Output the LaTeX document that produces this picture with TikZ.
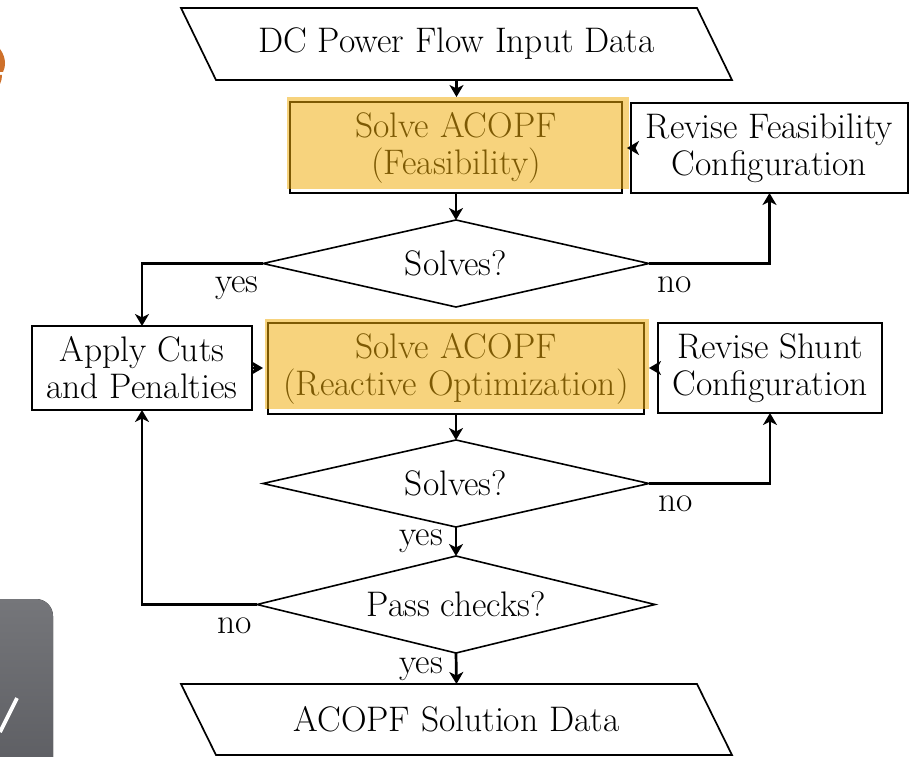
\documentclass[tikz,border=0pt]{standalone}
\usepackage{fontspec}
\usetikzlibrary{shapes.geometric,arrows.meta,calc}
\definecolor{hlc}{RGB}{240,172,7}
\definecolor{orangee}{RGB}{206,112,42}
\definecolor{grayT}{RGB}{117,118,122}
\definecolor{grayB}{RGB}{86,87,92}
\tikzset{
  base/.style={font=\fontsize{35.5}{37}\selectfont, align=center, inner sep=0pt, outer sep=0pt},
  procbox/.style={base, draw, line width=1.7pt, rectangle},
  hlbox/.style={rectangle, fill=hlc, fill opacity=0.52, draw=none, inner sep=0pt, outer sep=0pt},
  iobox/.style={base, rectangle, draw=none},
  iopath/.style={line width=1.7pt, line join=miter},
  decision/.style={base, draw, line width=1.6pt, shape=diamond, aspect=4.4},
  conn/.style={line width=2.7pt, -{Stealth[length=12pt,width=14pt,inset=3.5pt]}},
  lab/.style={font=\fontsize{35.5}{37}\selectfont, inner sep=0pt, outer sep=0pt}
}
\begin{document}
\begin{tikzpicture}[x=1pt,y=-1pt]
\useasboundingbox (0,0) rectangle (923,757);
\fill[white] (0,0) rectangle (923,757);

% background fragments at left edge
\fill[orangee] (0,49) .. controls (3,53) and (5,58) .. (5,63) .. controls (5,67) and (4,70) .. (3,72) -- (0,72) -- cycle;
\fill[orangee] (0,75) -- (2,75) .. controls (2,78) and (1.5,81) .. (0,84) -- cycle;
\fill[top color=grayT, bottom color=grayB, rounded corners=17pt] (-40,599) rectangle (53,820);
\coordinate (chkA) at (17,698);
\coordinate (chkB) at (0,732);
\draw[white, line width=3.8pt] (chkA) -- (chkB);

% input / output
\node[iobox, minimum width=551pt, minimum height=72pt] (input) at (456.5,44) {DC Power Flow Input Data};
\draw[iopath] (input.north west) -- ($(input.north east)+(-35,0)$) -- (input.south east) -- ($(input.south west)+(35,0)$) -- cycle;
\node[iobox, minimum width=551pt, minimum height=71pt] (output) at (456.5,719.5) {ACOPF Solution Data};
\draw[iopath] (output.north west) -- ($(output.north east)+(-35,0)$) -- (output.south east) -- ($(output.south west)+(35,0)$) -- cycle;

% process boxes
\node[procbox, minimum width=332pt, minimum height=91pt] (solve1) at (456,147.5) {Solve ACOPF\\(Feasibility)};
\node[procbox, minimum width=277pt, minimum height=90pt] (revfeas) at (769.5,148) {Revise Feasibility\\Configuration};
\node[procbox, minimum width=220pt, minimum height=84pt] (cuts) at (142,368) {Apply Cuts\\and Penalties};
\node[procbox, minimum width=376pt, minimum height=91pt] (solve2) at (456,368.5) {Solve ACOPF\\(Reactive Optimization)};
\node[procbox, minimum width=224pt, minimum height=90pt] (revshunt) at (770,368) {Revise Shunt\\Configuration};

% decisions
\node[decision, minimum width=386pt, minimum height=87pt] (d1) at (456,263.5) {Solves?};
\node[decision, minimum width=386pt, minimum height=87pt] (d2) at (456,483.5) {Solves?};
\node[decision, minimum width=398pt, minimum height=97pt] (d3) at (456,604.5) {Pass checks?};

% highlights (semi-transparent overlay)
\node[hlbox, minimum width=342pt, minimum height=92pt] (hl1) at (458,143) {};
\node[hlbox, minimum width=384pt, minimum height=90pt] (hl2) at (457,364) {};

% connectors
\draw[conn] (input.south) -- (input.south |- hl1.north);
\draw[conn] (solve1.south) -- (d1.north);
\draw[conn] (revfeas.west) -- ++(-4,0);
\draw[conn] (d1.west) -| (cuts.north);
\draw[conn] (d1.east) -| (revfeas.south);
\draw[conn] (cuts.east) -- ++(11,0);
\draw[conn] (revshunt.west) -- ++(-9,0);
\draw[conn] (solve2.south) -- (d2.north);
\draw[conn] (d2.east) -| (revshunt.south);
\draw[conn] (d2.south) -- (d3.north);
\draw[conn] (d3.west) -| (cuts.south);
\draw[conn] (d3.south) -- (output.north);

% labels
\node[lab, anchor=base west] (l1) at (215,292) {yes};
\node[lab, anchor=base west] (l2) at (657,292) {no};
\node[lab, anchor=base west] (l3) at (658,511) {no};
\node[lab, anchor=base east] (l4) at (443,545) {yes};
\node[lab, anchor=base west] (l5) at (217,633) {no};
\node[lab, anchor=base east] (l6) at (443,673) {yes};
\end{tikzpicture}
\end{document}
